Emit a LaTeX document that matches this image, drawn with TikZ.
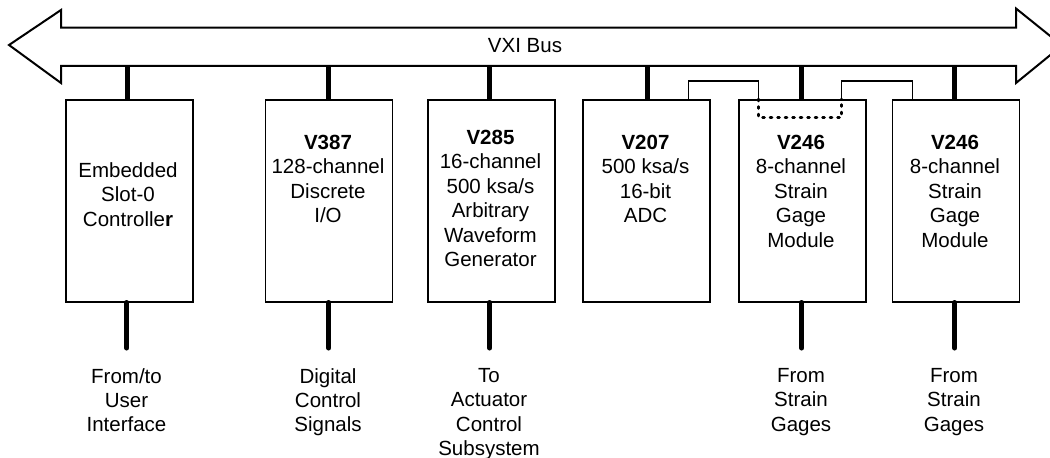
\documentclass[tikz,border=0pt]{standalone}
\usepackage{fontspec}
\setmainfont{Liberation Sans}
\begin{document}
\begin{tikzpicture}[x=1pt,y=-1pt,
  box/.style={draw,line width=1.5pt,minimum width=127pt,minimum height=202pt,anchor=north west,inner sep=0pt},
  txt/.style={anchor=north,align=center,inner sep=0pt,font=\fontsize{20.5}{24.4}\selectfont},
  stub/.style={line width=5pt},
  lead/.style={line width=5pt,line cap=round},
  wire/.style={line width=1.3pt},
  dots/.style={line width=2.5pt,dash pattern=on 2pt off 5.5pt,line cap=round},
  bus/.style={line width=2pt,line join=miter}
]
\useasboundingbox (0,0) rectangle (1050,458);
\clip (0,0) rectangle (1050,458);
\fill[white] (0,0) rectangle (1050,458);

% bus arrow
\draw[bus] (9,45) -- (61,10) -- (61,27.5) -- (1016,27.5) -- (1016,8.5) -- (1062,45.5)
  -- (1016,83) -- (1016,65.8) -- (61,65.8) -- (61,83) -- cycle;
\node[txt,anchor=center] (bus) at (525,46) {VXI Bus};

% boxes
\node[box] (b1) at (65,99) {};
\node[box] (b2) at (264.5,99) {};
\node[box] (b3) at (427,99) {};
\node[box] (b4) at (582,99) {};
\node[box] (b5) at (738,99) {};
\node[box] (b6) at (891.5,99) {};

% box texts
\node[txt] (t1) at (128,162.5) {Embedded\\Slot-0\\Controlle\textbf{r}};
\node[txt] (t2) at (328,135) {\textbf{V387}\\128-channel\\Discrete\\I/O};
\node[txt] (t3) at (490.5,130) {\textbf{V285}\\16-channel\\500 ksa/s\\Arbitrary\\Waveform\\Generator};
\node[txt] (t4) at (645.5,135) {\textbf{V207}\\500 ksa/s\\16-bit\\ADC};
\node[txt] (t5) at (801,135) {\textbf{V246}\\8-channel\\Strain\\Gage\\Module};
\node[txt] (t6) at (955,135) {\textbf{V246}\\8-channel\\Strain\\Gage\\Module};

% bus stubs
\draw[stub] ([xshift=-2pt]b1.north) -- ++(0,-34);
\draw[stub] (b2.north) -- ++(0,-34);
\draw[stub] ([xshift=-1.5pt]b3.north) -- ++(0,-34);
\draw[stub] ([xshift=1pt]b4.north) -- ++(0,-34);
\draw[stub] ([xshift=-0.5pt]b5.north) -- ++(0,-34);
\draw[stub] ([xshift=-1pt]b6.north) -- ++(0,-34);

% lead stubs
\draw[lead] ([xshift=-2.5pt]b1.south) -- ++(0,45.5);
\draw[lead] (b2.south) -- ++(0,45.5);
\draw[lead] ([xshift=-1.5pt]b3.south) -- ++(0,45.5);
\draw[lead] ([xshift=-0.5pt]b5.south) -- ++(0,45.5);
\draw[lead] ([xshift=-1pt]b6.south) -- ++(0,45.5);

% links between modules
\draw[wire] ([xshift=-22pt]b4.north east) -- ++(0,-18) -| ([xshift=20.5pt]b5.north west);
\draw[dots] ([xshift=20.5pt]b5.north west) -- ++(0,18.5) -| ([xshift=-25pt]b5.north east);
\draw[wire] ([xshift=-25pt]b5.north east) -- ++(0,-18) -| ([xshift=21pt]b6.north west);

% bottom labels
\node[txt] (l1) at (126.5,368) {From/to\\User\\Interface};
\node[txt] (l2) at (328,368) {Digital\\Control\\Signals};
\node[txt] (l3) at (489,368) {To\\Actuator\\Control\\Subsystem};
\node[txt] (l5) at (801,368) {From\\Strain\\Gages};
\node[txt] (l6) at (954,368) {From\\Strain\\Gages};
\end{tikzpicture}
\end{document}
